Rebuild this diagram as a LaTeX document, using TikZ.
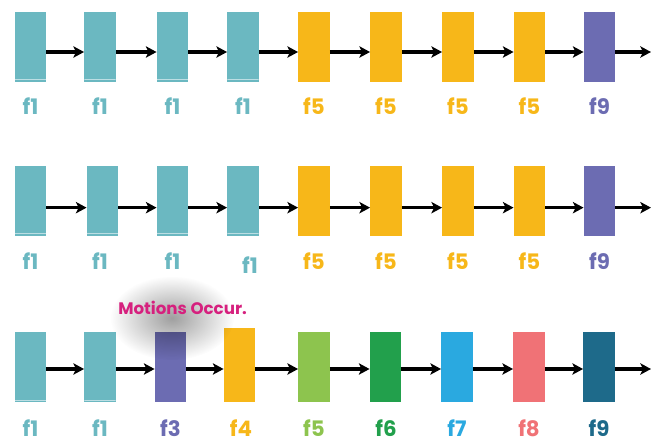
\documentclass[tikz,border=0pt]{standalone}
\usepackage{fontspec}
\setmainfont{Poppins}
\usetikzlibrary{arrows.meta,fadings}
\definecolor{cteal}{HTML}{6BB8C1}
\definecolor{cyel}{HTML}{F7B719}
\definecolor{cpur}{HTML}{6C6CB2}
\definecolor{clgreen}{HTML}{8DC44E}
\definecolor{cgreen}{HTML}{22A04C}
\definecolor{cblue}{HTML}{2AA9E0}
\definecolor{cpink}{HTML}{F07276}
\definecolor{cdteal}{HTML}{1E6A8A}
\definecolor{cmag}{HTML}{D6207E}
\tikzfading[name=blob, inner color=transparent!10, outer color=transparent!100]
\tikzset{
  box/.style={rectangle, draw=none, minimum width=23.5pt, minimum height=52.5pt, inner sep=0pt},
  tbox/.style={box, fill=cteal, path picture={\draw[white, opacity=0.55, line width=0.7pt] ([yshift=1.6pt]path picture bounding box.south west) -- ([yshift=1.6pt]path picture bounding box.south east);}},
  lab/.style={font=\fontsize{16}{16}\selectfont\bfseries, inner sep=0pt, anchor=base},
  arr/.style={-{Stealth[length=8pt,width=8.5pt,inset=2pt]}, line width=2.5pt, black},
}
\begin{document}
\begin{tikzpicture}[x=0.75pt,y=-0.75pt]
\useasboundingbox (0,0) rectangle (651,445);
\fill[white] (0,0) rectangle (651,445);
% Row 1
\node[tbox] (a1) at (30.5,47) {};
\node[tbox] (a2) at (100,47) {};
\node[tbox] (a3) at (172.5,47) {};
\node[tbox] (a4) at (243,47) {};
\node[box,fill=cyel] (a5) at (314,47) {};
\node[box,fill=cyel] (a6) at (386,47) {};
\node[box,fill=cyel] (a7) at (458,47) {};
\node[box,fill=cyel] (a8) at (529.5,47) {};
\node[box,fill=cpur] (a9) at (599.5,47) {};
\coordinate (aend) at (651,47);
\foreach \i/\j in {1/2,2/3,3/4,4/5,5/6,6/7,7/8,8/9}
  \draw[arr] ([yshift=-3.75pt]a\i.east) -- ([yshift=-3.75pt]a\j.west);
\draw[arr] ([yshift=-3.75pt]a9.east) -- ([yshift=-3.75pt]aend);
\node[lab,text=cteal] (la1) at (30.5,115) {f1};
\node[lab,text=cteal] (la2) at (100,115) {f1};
\node[lab,text=cteal] (la3) at (172.5,115) {f1};
\node[lab,text=cteal] (la4) at (243,115) {f1};
\node[lab,text=cyel] (la5) at (314,115) {f5};
\node[lab,text=cyel] (la6) at (386,115) {f5};
\node[lab,text=cyel] (la7) at (458,115) {f5};
\node[lab,text=cyel] (la8) at (529.5,115) {f5};
\node[lab,text=cpur] (la9) at (599.5,115) {f9};
% Row 2
\node[tbox] (b1) at (30.5,201) {};
\node[tbox] (b2) at (102.5,201) {};
\node[tbox] (b3) at (172.5,201) {};
\node[tbox] (b4) at (243,201) {};
\node[box,fill=cyel] (b5) at (314,201) {};
\node[box,fill=cyel] (b6) at (386,201) {};
\node[box,fill=cyel] (b7) at (458,201) {};
\node[box,fill=cyel] (b8) at (529.5,201) {};
\node[box,fill=cpur] (b9) at (599.5,201) {};
\coordinate (bend) at (651,201);
\foreach \i/\j in {1/2,2/3,3/4,4/5,5/6,6/7,7/8,8/9}
  \draw[arr] ([yshift=-5pt]b\i.east) -- ([yshift=-5pt]b\j.west);
\draw[arr] ([yshift=-5pt]b9.east) -- ([yshift=-5pt]bend);
\node[lab,text=cteal] (lb1) at (30.5,270) {f1};
\node[lab,text=cteal] (lb2) at (100,270) {f1};
\node[lab,text=cteal] (lb3) at (172.5,270) {f1};
\node[lab,text=cteal] (lb4) at (250,274) {f1};
\node[lab,text=cyel] (lb5) at (314,270) {f5};
\node[lab,text=cyel] (lb6) at (386,270) {f5};
\node[lab,text=cyel] (lb7) at (458,270) {f5};
\node[lab,text=cyel] (lb8) at (529.5,270) {f5};
\node[lab,text=cpur] (lb9) at (599.5,270) {f9};
% Row 3
\node[tbox] (c1) at (30.5,367.5) {};
\node[tbox] (c2) at (100,367.5) {};
\node[box,fill=cpur] (c3) at (170.5,367.5) {};
\node[box,fill=cyel,minimum height=55.5pt] (c4) at (239.5,365) {};
\node[box,fill=clgreen] (c5) at (314,367.5) {};
\node[box,fill=cgreen] (c6) at (385.5,367.5) {};
\node[box,fill=cblue] (c7) at (457,367.5) {};
\node[box,fill=cpink] (c8) at (529,367.5) {};
\node[box,fill=cdteal] (c9) at (599,367.5) {};
\coordinate (cend) at (651,369);
\foreach \i/\j in {1/2,2/3,3/4,4/5,5/6,6/7,7/8,8/9}
  \draw[arr] (c\i.east |- cend) -- (c\j.west |- cend);
\draw[arr] (c9.east |- cend) -- (cend);
% soft shadow behind the remark
\fill[black, fill opacity=0.42, path fading=blob] (172,318) ellipse (62 and 42);
\node[font=\fontsize{12.5}{12.5}\selectfont\bfseries, text=cmag, inner sep=0pt, anchor=base west] (mo) at (118,315) {Motions Occur.};
\node[lab,text=cteal] (lc1) at (30.5,437) {f1};
\node[lab,text=cteal] (lc2) at (100,437) {f1};
\node[lab,text=cpur] (lc3) at (170.5,437) {f3};
\node[lab,text=cyel] (lc4) at (241,437) {f4};
\node[lab,text=clgreen] (lc5) at (314,437) {f5};
\node[lab,text=cgreen] (lc6) at (386,437) {f6};
\node[lab,text=cblue] (lc7) at (457,437) {f7};
\node[lab,text=cpink] (lc8) at (529,437) {f8};
\node[lab,text=cdteal] (lc9) at (599,437) {f9};
\end{tikzpicture}
\end{document}
